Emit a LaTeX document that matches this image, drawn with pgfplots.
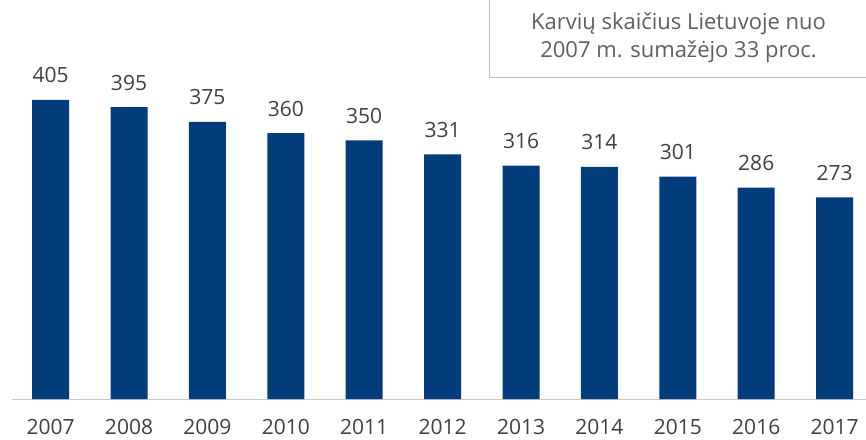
\documentclass[border=0pt]{standalone}
\usepackage{fontspec}
\setmainfont{Open Sans}
\usepackage{pgfplots}
\pgfplotsset{compat=1.18}
\definecolor{barblue}{HTML}{023C7A}
\definecolor{txt}{HTML}{404040}
\definecolor{boxtxt}{HTML}{5F5F5F}
\begin{document}
\begin{tikzpicture}[x=1pt,y=1pt]
\useasboundingbox (0,0) rectangle (866,439);
\draw[color=black!25, line width=0.9pt] (489,445) -- (489,362) -- (870,362);
\node[anchor=base, font=\fontsize{22}{26}\selectfont, color=boxtxt] at (678.5,409) {Karvių skaičius Lietuvoje nuo};
\node[anchor=base, font=\fontsize{22}{26}\selectfont, color=boxtxt] at (678.5,381) {2007 m. sumažėjo 33 proc.};
\begin{axis}[
  at={(12pt,40pt)}, anchor=south west, scale only axis,
  width=854pt, height=399pt,
  xmin=-0.4923, xmax=10.40, ymin=0, ymax=540,
  axis x line*=bottom, axis y line=none,
  x axis line style={color=black!22, line width=1pt, -},
  xtick={0,1,2,3,4,5,6,7,8,9,10},
  xticklabels={2007,2008,2009,2010,2011,2012,2013,2014,2015,2016,2017},
  major tick length=0pt,
  xticklabel style={anchor=base, yshift=-35pt, font=\fontsize{21}{25}\selectfont, color=txt},
  /pgf/number format/assume math mode=true,
  clip=false,
]
\addplot[ybar, bar width=37pt, fill=barblue, draw=none,
  nodes near coords,
  nodes near coords style={anchor=base, yshift=17pt, font=\fontsize{21}{25}\selectfont, color=txt, /pgf/number format/fixed}]
  coordinates {(0,405) (1,395) (2,375) (3,360) (4,350) (5,331) (6,316) (7,314) (8,301) (9,286) (10,273)};
\end{axis}
\end{tikzpicture}
\end{document}
